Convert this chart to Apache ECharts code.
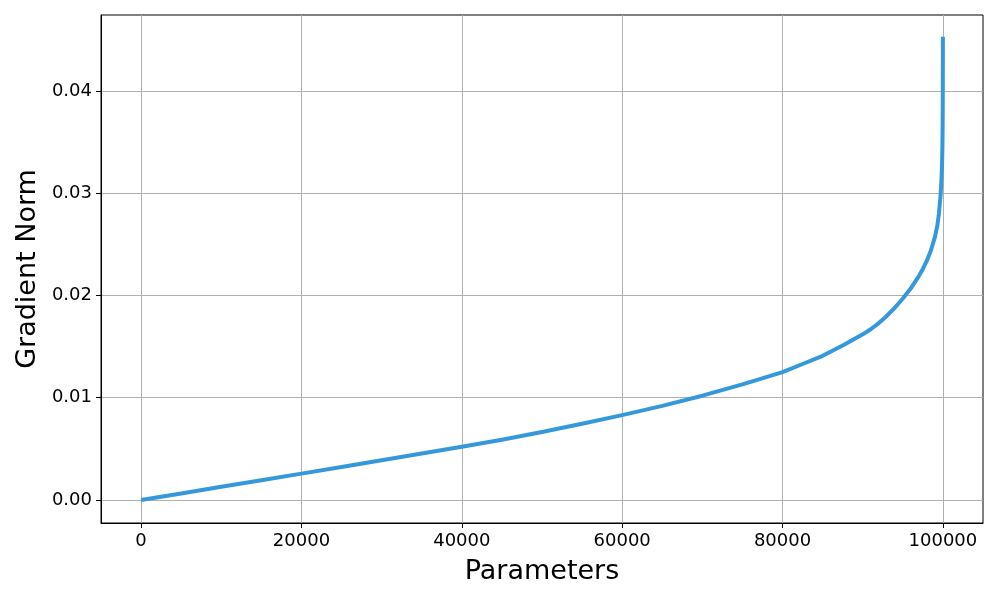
<!DOCTYPE html>
<html><head><meta charset="utf-8">
<script src="https://cdn.jsdelivr.net/npm/echarts@6/dist/echarts.min.js"></script>
<style>html,body{margin:0;padding:0;background:#fff}#c{width:1000px;height:600px}</style>
</head><body><div id="c"></div>
<script>
const paramIndex = [0, 5000, 10000, 15000, 20000, 25000, 30000, 35000, 40000, 45000, 50000, 55000, 60000, 65000, 70000, 75000, 80000, 82500, 85000, 87500, 90000, 91000, 92000, 93000, 94000, 95000, 96000, 97000, 97500, 98000, 98500, 99000, 99300, 99500, 99700, 99800, 99900, 99950, 99980, 100000];
const gradNorm = [0, 0.00064, 0.00129, 0.00193, 0.00258, 0.00323, 0.00388, 0.00454, 0.0052, 0.0059, 0.00665, 0.00745, 0.0083, 0.0092, 0.0102, 0.0113, 0.0125, 0.0133, 0.0141, 0.0151, 0.0162, 0.0167, 0.0173, 0.0180, 0.0188, 0.0197, 0.0207, 0.0219, 0.0226, 0.0234, 0.0244, 0.0257, 0.0268, 0.0280, 0.0297, 0.0310, 0.0330, 0.0352, 0.0382, 0.0453];
const xTicks = [0, 20000, 40000, 60000, 80000, 100000];
const yTicks = [0, 0.01, 0.02, 0.03, 0.04];

const chart = echarts.init(document.getElementById('c'));
const font = 'DejaVu Sans';
chart.setOption({
  animation: false,
  grid: {left: 101, right: 17, top: 15, bottom: 77, show: true, borderColor: '#000', borderWidth: 1,
    containLabel: false, outerBoundsMode: 'none'},
  xAxis: {
    type: 'value', min: -5000, max: 105000,
    name: 'Parameters', nameLocation: 'middle', nameGap: 35,
    nameTextStyle: {fontFamily: font, fontSize: 27, color: '#000'},
    axisLine: {show: true, onZero: false, lineStyle: {color: '#000'}},
    axisTick: {show: true, inside: false, length: 5, customValues: xTicks, lineStyle: {color: '#000'}},
    axisLabel: {customValues: xTicks, fontFamily: font, fontSize: 18, color: '#000', margin: 9,
      formatter: v => String(v)},
    splitLine: {show: true, lineStyle: {color: '#b0b0b0', width: 1}}
  },
  yAxis: {
    type: 'value', min: -0.00225, max: 0.04743,
    name: 'Gradient Norm', nameLocation: 'middle', nameGap: 58,
    nameTextStyle: {fontFamily: font, fontSize: 27, color: '#000'},
    axisLine: {show: true, onZero: false, lineStyle: {color: '#000'}},
    axisTick: {show: true, length: 5, customValues: yTicks, lineStyle: {color: '#000'}},
    axisLabel: {customValues: yTicks, fontFamily: font, fontSize: 18, color: '#000', margin: 9,
      formatter: v => v.toFixed(2)},
    splitLine: {show: true, lineStyle: {color: '#b0b0b0', width: 1}}
  },
  series: [{
    type: 'line', showSymbol: false, smooth: false,
    data: paramIndex.map((x, i) => [x, gradNorm[i]]),
    lineStyle: {color: '#3498db', width: 4, join: 'round', cap: 'butt'}, itemStyle: {color: '#3498db'}
  }]
});
</script></body></html>
